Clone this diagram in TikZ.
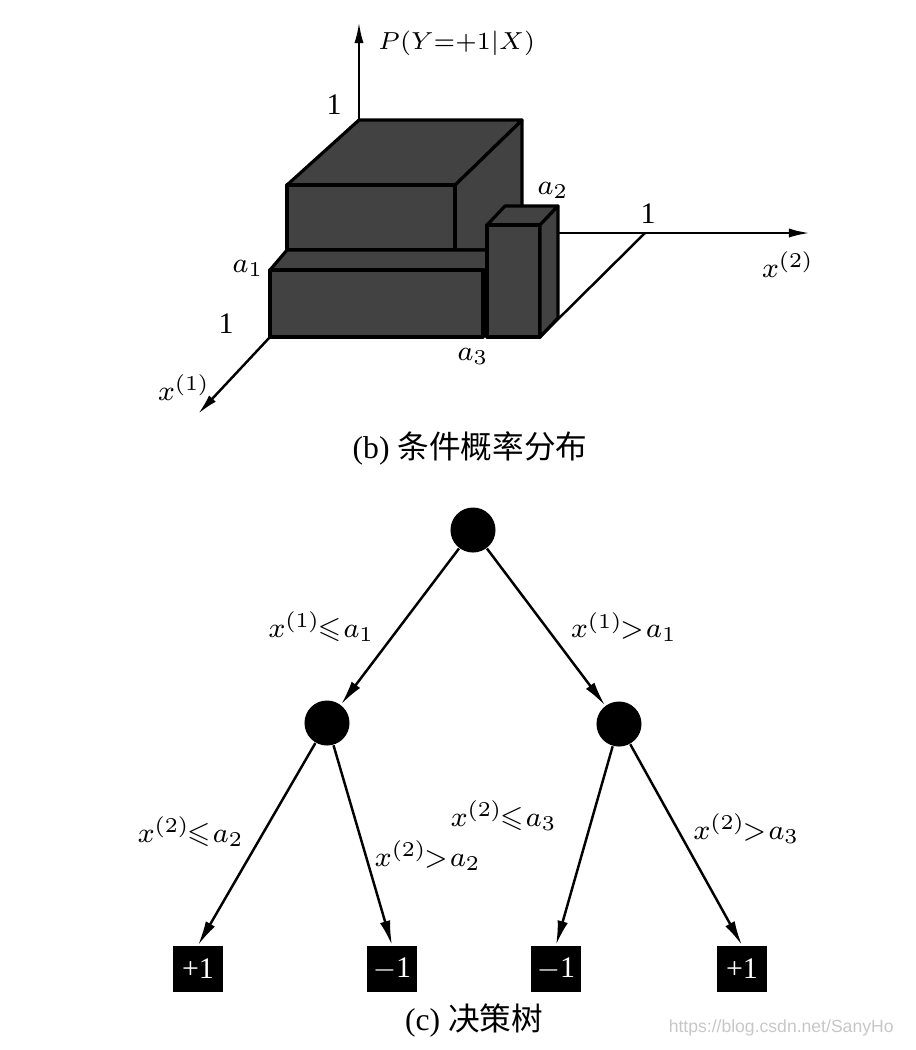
\documentclass[tikz,border=0pt]{standalone}
\usepackage{amssymb}
\usepackage{fontspec}
\setmainfont{Liberation Serif}
\newfontfamily\cjk{Noto Sans CJK SC}
\newfontfamily\wmfont{Liberation Sans}
\usetikzlibrary{positioning,arrows.meta}

\tikzset{
  block/.style={fill=black!74, draw=black, line width=0.9pt, line join=round},
  axis/.style={line width=0.7pt, -{Latex[length=6pt,width=2.6pt]}},
  split/.style={circle, fill=black, minimum size=0.45cm, inner sep=0pt},
  leaf/.style={rectangle, fill=black, text=white, minimum width=0.5cm, minimum height=0.46cm, inner sep=0pt},
  edge/.style={line width=0.7pt, -{Latex[length=7pt,width=3pt]}},
  cond/.style={inner sep=0pt},
}

\begin{document}
\thickmuskip=1.5mu
\begin{tikzpicture}[x=0.01cm, y=-0.01cm, every node/.style={font=\fontsize{8.5}{10}\selectfont}]
    \useasboundingbox (0,0) rectangle (916,1050);

    % Draw axes
    \draw[axis] (359,125) -- (359,22);
    \node[right] (pname) at (366,43) {\fontsize{7}{9}\selectfont$P(Y{=}{+}1|X)$};
    \node (one3) at (334,105) {1};
    \draw[axis] (555,233) -- (810,233);
    \node (x2name) at (788,265) {$x^{(2)}$};
    \node (one2) at (648,214) {1};
    \draw[line width=0.7pt] (645,233) -- (540,337);
    \draw[axis] (270,337) -- (198,414);
    \node (x1name) at (184,388) {$x^{(1)}$};
    \node (one1) at (226,324) {1};

    % Draw the blocks, back to front
    \draw[block] (455,185) -- (522,120) -- (522,250) -- (455,250) -- cycle;
    \draw[block] (359,120) -- (522,120) -- (455,185) -- (287,185) -- cycle;
    \draw[block] (287,185) rectangle (455,250);
    \draw[block] (287,250) -- (487,250) -- (487,270) -- (270,270) -- cycle;
    \draw[block] (270,270) rectangle (483,337);
    \draw[block] (505,206) -- (558,206) -- (540,225) -- (487,225) -- cycle;
    \draw[block] (487,225) rectangle (540,337);
    \draw[block] (540,225) -- (558,206) -- (558,318) -- (540,337) -- cycle;
    \node (a1name) at (248,268) {$a_1$};
    \node (a2name) at (553,190) {$a_2$};
    \node (a3name) at (473,356) {$a_3$};

    \node (capb) at (470,448) {\fontsize{9}{11}\selectfont(b) {\cjk 条件概率分布}};

    % Draw the tree
    \node[split] (root) at (473,530) {};
    \node[split] (lc) at (327,723) {};
    \node[split] (rc) at (619,724) {};
    \node[leaf] (l1) at (198,969) {+1};
    \node[leaf] (l2) at (392,969) {$-$1};
    \node[leaf] (l3) at (556,969) {$-$1};
    \node[leaf] (l4) at (742,969) {+1};

    \draw[edge] (root) -- (lc) node[cond, pos=.5, left=7pt] (e1) {$x^{(1)}\!\leqslant a_1$};
    \draw[edge] (root) -- (rc) node[cond, pos=.5, right=6.8pt] (e2) {$x^{(1)}\!>a_1$};
    \draw[edge] (lc) -- (l1.north) node[cond, pos=.44, left=5.4pt] (e3) {$x^{(2)}\!\leqslant a_2$};
    \draw[edge] (lc) -- (l2.north) node[cond, pos=.55, right=2.3pt] (e4) {$x^{(2)}\!>a_2$};
    \draw[edge] (rc) -- (l3.north) node[cond, pos=.35, left=10pt] (e5) {$x^{(2)}\!\leqslant a_3$};
    \draw[edge] (rc) -- (l4.north) node[cond, pos=.42, right=4.3pt] (e6) {$x^{(2)}\!>a_3$};

    \node (capc) at (474,1020) {\fontsize{9}{11}\selectfont(c) {\cjk 决策树}};
    \node[text=black!22, anchor=east] (mark) at (906,1028) {\wmfont\fontsize{5}{6}\selectfont https://blog.csdn.net/SanyHo};
\end{tikzpicture}
\end{document}
